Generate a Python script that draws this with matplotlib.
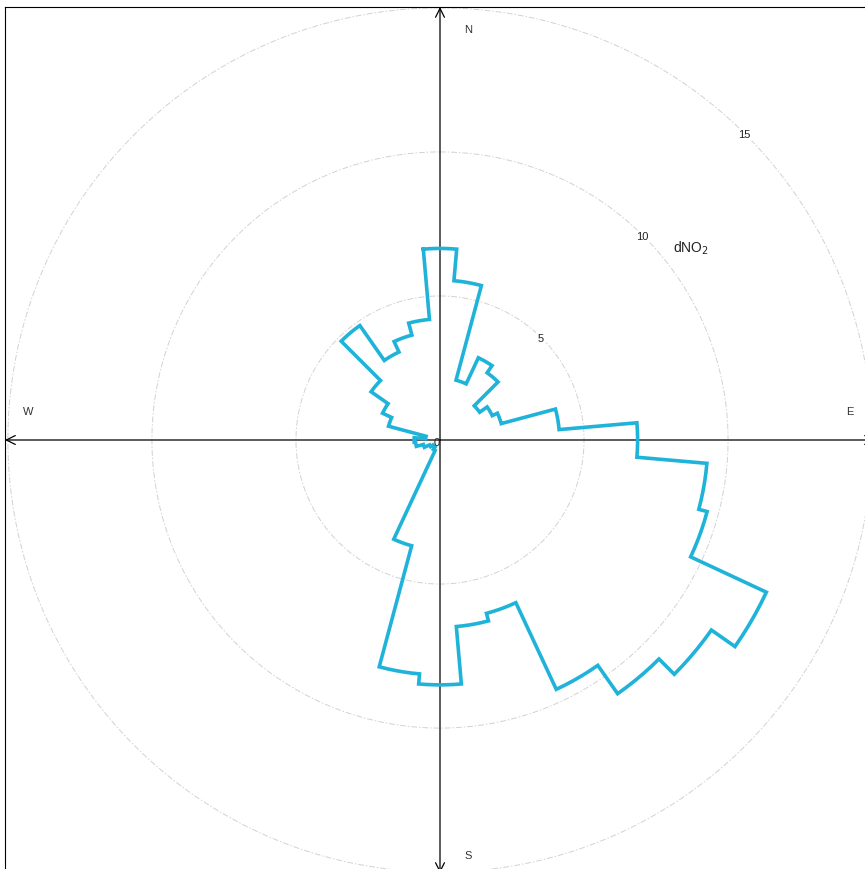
import numpy as np
import matplotlib.pyplot as plt

plt.rcParams['font.family'] = ['Liberation Sans', 'DejaVu Sans']

# wind direction bins (degrees from north, clockwise) and mean dNO2 per bin
directions = np.arange(0, 360, 10)
dno2 = [6.65, 5.55, 2.15, 3.15, 2.85, 1.68, 2.0, 2.2, 4.15, 6.86,
        9.3, 9.6, 12.5, 11.5, 10.75, 9.55, 6.23, 6.5, 8.5, 8.15,
        3.8, 0.4, 0.3, 0.3, 0.4, 0.6, 0.85, 0.9, 0.5, 1.85,
        2.2, 2.92, 4.85, 3.37, 3.77, 4.2]
rings = [5, 10, 15]
compass = ['N', 'E', 'S', 'W']

fig = plt.figure(figsize=(8.65, 8.70), dpi=100)
ax = fig.add_axes([5 / 865, -4 / 870, 870 / 865, 866 / 870])
ax.set_xlim(-15.1, 15.1)
ax.set_ylim(-15.03, 15.03)
for s in ax.spines.values():
    s.set_color('black')
    s.set_linewidth(0.8)
ax.set_xticks([])
ax.set_yticks([])

# grid circles
t = np.linspace(0, 2 * np.pi, 400)
for r in rings:
    ax.plot(r * np.sin(t), r * np.cos(t), color='#d2d2d2', lw=0.7,
            ls=(0, (6, 2, 1.5, 2)), zorder=1)
    a = np.deg2rad(45)
    ax.text(r * np.sin(a) - 0.05, r * np.cos(a), str(r), fontsize=8,
            ha='center', va='center', color='#222222', zorder=2,
            bbox=dict(facecolor='white', edgecolor='none', pad=1))
ax.text(-0.1, -0.07, '0', fontsize=8, ha='center', va='center',
        color='#222222', zorder=5)

# axes with arrows
lim = 15.1
for dx, dy in [(1, 0), (-1, 0), (0, 1), (0, -1)]:
    ax.annotate('', xy=(dx * lim, dy * 15.03), xytext=(0, 0),
                arrowprops=dict(arrowstyle='->', color='black', lw=0.9,
                                mutation_scale=16, shrinkA=0, shrinkB=0),
                zorder=3)
pos = {'N': (0.97, 14.27), 'S': (0.97, -14.4), 'E': (14.24, 1.0), 'W': (-14.3, 1.0)}
for c in compass:
    ax.text(*pos[c], c, fontsize=8, ha='center', va='center', color='#333333')

# stepped rose outline
xs, ys = [], []
for d, r in zip(directions, dno2):
    ang = np.deg2rad(np.linspace(d - 5, d + 5, 6))
    xs.extend(r * np.sin(ang))
    ys.extend(r * np.cos(ang))
xs.append(xs[0])
ys.append(ys[0])
ax.plot(xs, ys, color='#1fb3d9', lw=2.6, solid_joinstyle='miter', zorder=4)

ax.text(8.7, 6.7, 'dNO$_2$', fontsize=10, ha='center', va='center',
        color='#222222')

fig.savefig('out.png', dpi=100)
